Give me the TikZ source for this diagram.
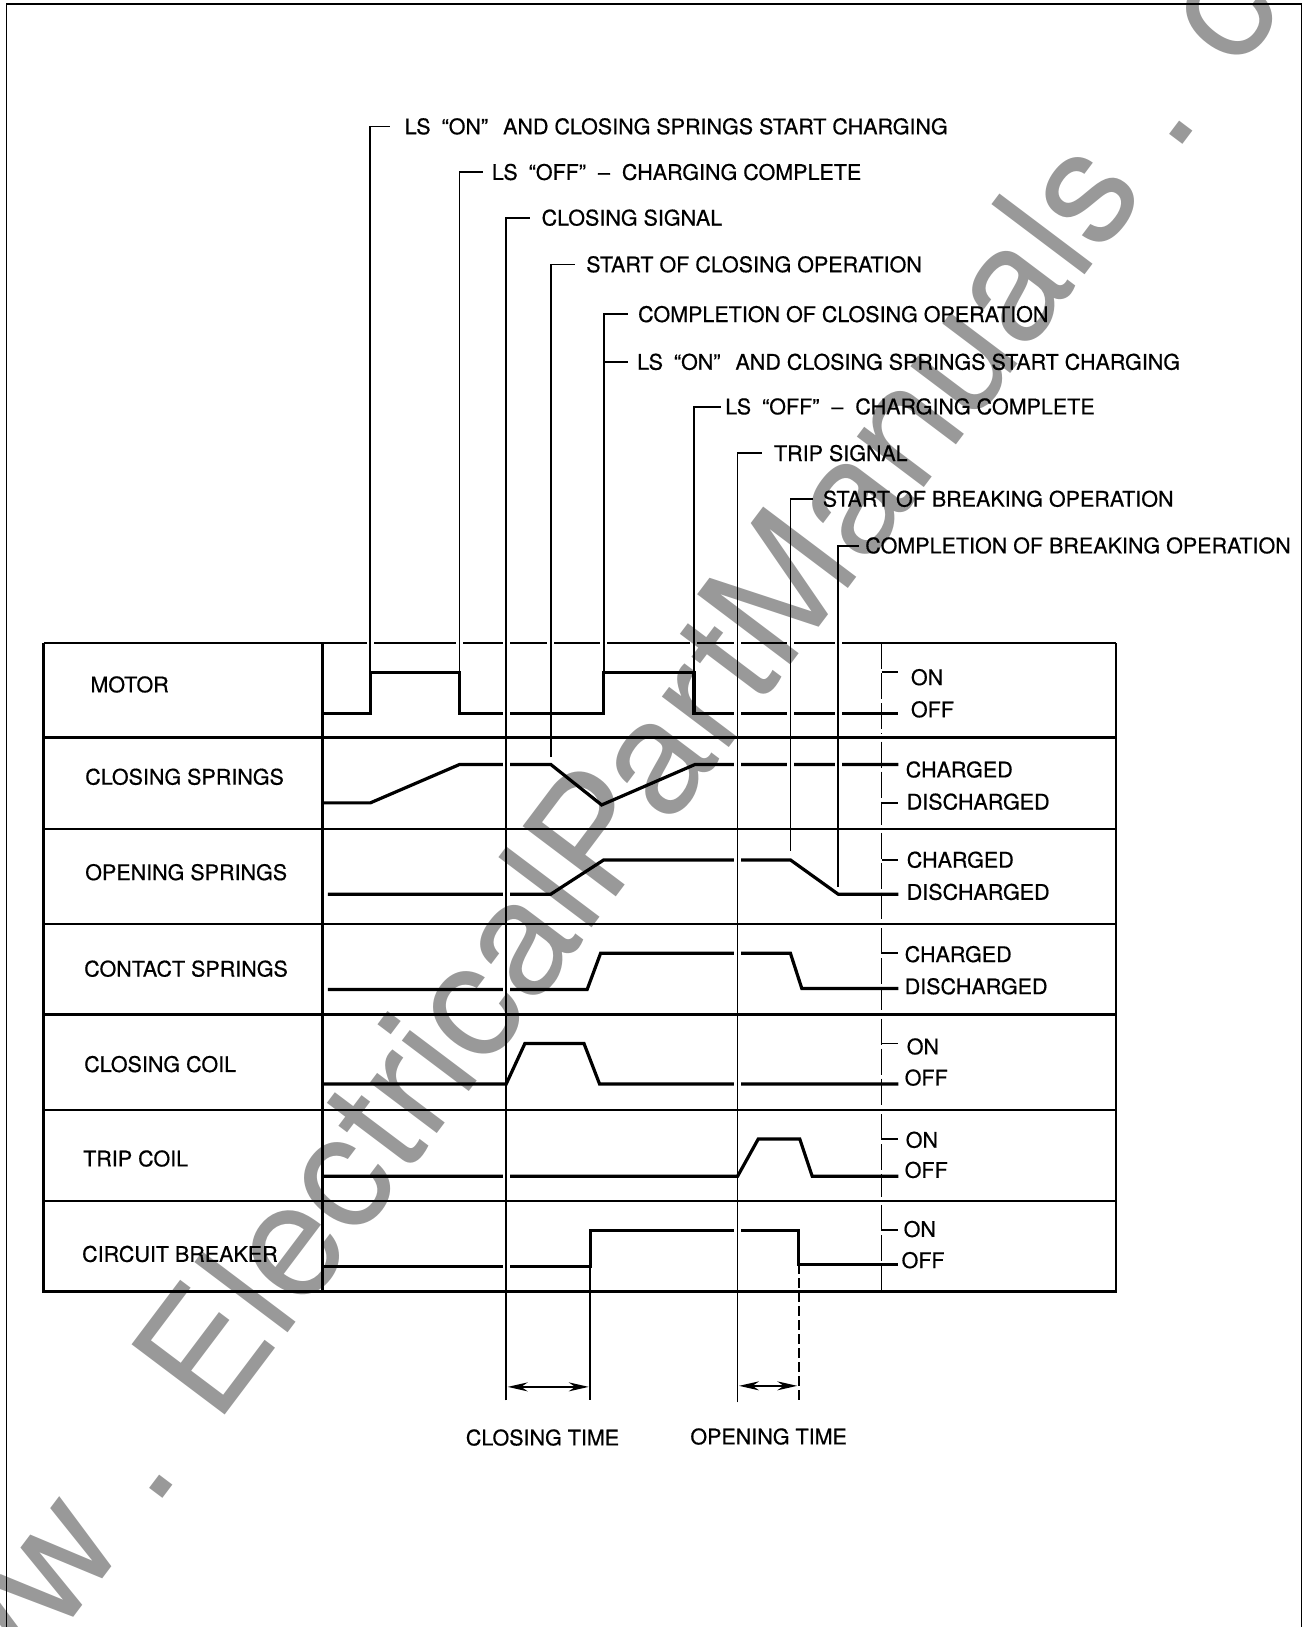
\documentclass[tikz,border=0pt]{standalone}
\usepackage{fontspec}
\setmainfont{TeX Gyre Heros}
\newfontfamily\lblfont[FakeBold=0.6]{TeX Gyre Heros}
\usetikzlibrary{arrows.meta,calc}
\begin{document}
\begin{tikzpicture}[x=1.0373pt,y=-1.0373pt,
  lbl/.style={font=\lblfont\fontsize{21.5}{24}\selectfont, inner sep=0pt, anchor=west, text height=15.4pt, text depth=0pt},
  clbl/.style={lbl, anchor=center},
  trace/.style={line width=3.2pt},
  grid/.style={line width=2.3pt},
  leader/.style={line width=1.8pt},
  halo/.style={white, line width=7pt},
  tickline/.style={line width=1.6pt},
  axisline/.style={line width=1.4pt, dash pattern=on 26pt off 4pt},
  frameline/.style={line width=1.6pt},
  dimarrow/.style={line width=1.5pt, {Stealth[length=20pt,width=9pt]}-{Stealth[length=20pt,width=9pt]}}]
\useasboundingbox (0,0) rectangle (1261,1568.5);

% outer frame
\draw[frameline] (6.4,1570) -- (6.4,3.9) -- (1254.6,3.9) -- (1254.6,1570);

% annotation labels
\node[lbl] (a1) at (390,122) {LS\hspace{5pt} “ON”\hspace{9pt} AND CLOSING SPRINGS START CHARGING};
\node[lbl] (a2) at (474,166) {LS\hspace{5pt} “OFF”\hspace{6pt} –\hspace{6pt} CHARGING COMPLETE};
\node[lbl] (a3) at (522,210) {CLOSING SIGNAL};
\node[lbl] (a4) at (565,255) {START OF CLOSING OPERATION};
\node[lbl] (a5) at (615,303) {COMPLETION OF CLOSING OPERATION};
\node[lbl] (a6) at (614,349) {LS\hspace{5pt} “ON”\hspace{9pt} AND CLOSING SPRINGS START CHARGING};
\node[lbl] (a7) at (699,392) {LS\hspace{5pt} “OFF”\hspace{6pt} –\hspace{6pt} CHARGING COMPLETE};
\node[lbl] (a8) at (746,437) {TRIP SIGNAL};
\node[lbl] (a9) at (793,481) {START OF BREAKING OPERATION};
\node[lbl] (a10) at (834,526) {COMPLETION OF BREAKING OPERATION};

% table top line
\draw[grid] (42,620) -- (1076,620);

% signal traces
\draw[trace] (311,688) -- (357,688) -- (357,648) -- (443,648) -- (443,688) -- (582,688) -- (582,648) -- (669,648) -- (669,688) -- (866,688);
\draw[trace] (311,774) -- (357,774) -- (443,737) -- (531,737) -- (580,776) -- (670,737) -- (866,737);
\draw[trace] (316,862) -- (531,862) -- (582,829) -- (762,829) -- (808,862) -- (866,862);
\draw[trace] (316,954) -- (566,954) -- (579,919) -- (762,919) -- (773,953) -- (866,953);
\draw[trace] (311,1045) -- (488,1045) -- (506,1006) -- (563,1006) -- (578,1045) -- (866,1045);
\draw[trace] (311,1134) -- (711,1134) -- (731,1098) -- (771,1098) -- (783,1134) -- (866,1134);
\draw[trace] (311,1221) -- (569,1221) -- (569,1186) -- (770,1186) -- (770,1219) -- (866,1219);

% gaps where the event lines cross the traces
\foreach \x/\a/\b in {357/600/640, 443/600/640, 488/600/1030, 488/1055/1350, 531/600/640, 582/600/640, 669/600/640, 711/600/1120, 711/1145/1350, 762/600/815, 808/600/850}
  \draw[halo] (\x,\a) -- (\x,\b);

% event lines with their label leaders
\draw[leader] (357,648) |- ($(a1.west)+(-14,0)$);
\draw[leader] (443,648) |- ($(a2.west)+(-8,0)$);
\draw[leader] (488,1350) |- ($(a3.west)+(-11,0)$);
\draw[leader] (531,730) |- ($(a4.west)+(-11,0)$);
\draw[leader] (582,648) |- ($(a5.west)+(-10,0)$);
\draw[leader] (582,349) -- ($(a6.west)+(-9,0)$);
\draw[leader] (669,648) |- ($(a7.west)+(-4,0)$);
\draw[leader] (711,1352) |- ($(a8.west)+(-11,0)$);
\draw[leader] (762,820) |- ($(a9.west)+(-9,0)$);
\draw[leader] (808,855) |- ($(a10.west)+(-6,0)$);
\draw[leader] (569,1186) -- (569,1350);
\draw[leader, dash pattern=on 10pt off 4pt] (770,1219) -- (770,1350);

% table grid
\draw[grid] (42,620) -- (42,1245) -- (1076,1245) -- (1076,620);
\draw[grid] (311,620) -- (311,1245);
\foreach \y in {711,799,891,978,1070,1158}
  \draw[grid] (42,\y) -- (1076,\y);

% right state axis
\foreach \a/\b in {620/707, 715/795, 803/887, 895/974, 982/1066, 1074/1154, 1162/1245}
  \draw[axisline] (850,\a) -- (850,\b);
\foreach \y in {648,774,829,919,1006,1098,1186}
  \draw[tickline] (850,\y) -- (866,\y);

% row labels
\node[lbl] (r1) at (87,660) {MOTOR};
\node[lbl] (r2) at (82,749) {CLOSING SPRINGS};
\node[lbl] (r3) at (82,841) {OPENING SPRINGS};
\node[lbl] (r4) at (81,934) {CONTACT SPRINGS};
\node[lbl] (r5) at (81,1026) {CLOSING COIL};
\node[lbl] (r6) at (80,1117) {TRIP COIL};
\node[lbl] (r7) at (79,1209) {CIRCUIT BREAKER};

% state labels
\node[lbl] (s1a) at (878,653) {ON};
\node[lbl] (s1b) at (878,684) {OFF};
\node[lbl] (s2a) at (873,742) {CHARGED};
\node[lbl] (s2b) at (874,773) {DISCHARGED};
\node[lbl] (s3a) at (874,829) {CHARGED};
\node[lbl] (s3b) at (874,860) {DISCHARGED};
\node[lbl] (s4a) at (872,920) {CHARGED};
\node[lbl] (s4b) at (872,951) {DISCHARGED};
\node[lbl] (s5a) at (874,1009) {ON};
\node[lbl] (s5b) at (872,1039) {OFF};
\node[lbl] (s6a) at (873,1099) {ON};
\node[lbl] (s6b) at (872,1128) {OFF};
\node[lbl] (s7a) at (871,1185) {ON};
\node[lbl] (s7b) at (869,1215) {OFF};

% time dimensions
\coordinate (cl1) at (488,1337);
\coordinate (cl2) at (569,1337);
\coordinate (op1) at (711,1336);
\coordinate (op2) at (770,1336);
\draw[dimarrow, shorten <=1.5pt, shorten >=1.5pt] (cl1) -- (cl2);
\draw[dimarrow, shorten <=1.5pt, shorten >=1.5pt] (op1) -- (op2);
\node[clbl] (ct) at (523,1386) {CLOSING TIME};
\node[clbl] (ot) at (741,1385) {OPENING TIME};

% watermark
\begin{scope}[blend mode=multiply]
\clip (0,0) rectangle (1261,1568.5);
\node[rotate=53, anchor=base, text=black!40, font=\fontsize{160}{160}\selectfont, inner sep=0pt] (wm) at (645,797) {www . ElectricalPartManuals . com};
\end{scope}
\end{tikzpicture}
\end{document}
